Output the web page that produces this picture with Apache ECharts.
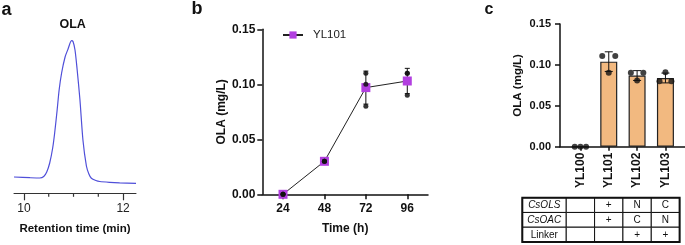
<!DOCTYPE html>
<html><head><meta charset="utf-8">
<script src="https://cdn.jsdelivr.net/npm/echarts@6/dist/echarts.min.js"></script>
<style>html,body{margin:0;padding:0;background:#fff}#c{width:685px;height:245px}</style>
</head><body><div id="c"></div>
<script>
// ---- Panel a: chromatogram (retention time in min, signal in arbitrary units)
const aTime = [9.80,10.12,10.32,10.40,10.46,10.52,10.58,10.62,10.67,10.71,10.76,10.83,10.89,10.96,10.99,11.03,11.07,11.13,11.19,11.26,11.31,11.36,11.45,11.53,11.73,11.93,12.26];
const aSignal = [16.3,15.6,15.3,16.8,21.3,30.3,45.3,60.3,83.3,103.3,120.3,136.3,144.3,152.6,151.8,143.3,125.3,93.3,53.3,27.3,19.3,15.0,12.8,11.8,11.0,10.5,10.0];
const aMajorTicks = [10, 12];
const aMinorTicks = [10.5, 11, 11.5];

// ---- Panel b: time course YL101
const bTime = ['24', '48', '72', '96'];
const bMean = [0, 0.030, 0.097, 0.103];
const bSD = [0, 0, 0.015, 0.0115];
const bReps = [[0, 0, 0], [0.03, 0.03, 0.03], [0.11, 0.10, 0.08], [0.11, 0.11, 0.09]];

// ---- Panel c: strains
const cStrains = ['YL100', 'YL101', 'YL102', 'YL103'];
const cMean = [0, 0.104, 0.087, 0.084];
const cSD = [0, 0.012, 0.006, 0.006];
const cReps = [[0, 0, 0], [0.111, 0.111, 0.0905], [0.0905, 0.0905, 0.081], [0.091, 0.080, 0.080]];
const cJitter = [[-0.2, 0, 0.2], [-0.23, 0.23, 0], [-0.22, 0.22, 0], [0, -0.21, 0.21]];

// ---- Table under panel c
const tableRows = ['CsOLS', 'CsOAC', 'Linker'];
const tableRowItalic = [true, true, false];
const tableCells = [['', '+', 'N', 'C'], ['', '+', 'C', 'N'], ['', '', '+', '+']];

const FONT = 'Liberation Sans, Arial, Helvetica, sans-serif';
const chart = echarts.init(document.getElementById('c'), null, {renderer: 'canvas'});

function errRender(capHalf) {
  return function (params, api) {
    const x = api.value(0), m = api.value(1), s = api.value(2);
    if (!s) return null;
    const t = api.coord([x, m + s]), b = api.coord([x, m - s]);
    const st = {stroke: '#111', lineWidth: 1};
    return {type: 'group', children: [
      {type: 'line', shape: {x1: t[0], y1: t[1], x2: b[0], y2: b[1]}, style: st},
      {type: 'line', shape: {x1: t[0] - capHalf, y1: t[1], x2: t[0] + capHalf, y2: t[1]}, style: st},
      {type: 'line', shape: {x1: b[0] - capHalf, y1: b[1], x2: b[0] + capHalf, y2: b[1]}, style: st}
    ]};
  };
}

// minor ticks of panel a's time axis, placed through the axis scale
function minorTickRender(params, api) {
  const p = api.coord([api.value(0), 0]);
  return {type: 'line', shape: {x1: p[0], y1: p[1], x2: p[0], y2: p[1] + 3.5},
    style: {stroke: '#333', lineWidth: 1.2}};
}

const headerSpan = 1.55;
const tableData = [];
tableRows.forEach((r, ri) => {
  tableData.push([-1, ri, r, tableRowItalic[ri] ? 1 : 0]);
  tableCells[ri].forEach((v, ci) => tableData.push([ci, ri, v, 0]));
});

function cellRender(params, api) {
  const col = api.value(0), row = api.value(1);
  const item = tableData[params.dataIndex];
  const c = api.coord([Math.max(col, 0), row]);
  const h = api.size([0, 1])[1];
  let x0, x1;
  if (col < 0) { x1 = api.coord([-0.5, row])[0]; x0 = api.coord([-0.5 - headerSpan, row])[0]; }
  else { x0 = api.coord([col - 0.5, row])[0]; x1 = api.coord([col + 0.5, row])[0]; }
  return {type: 'group', children: [
    {type: 'rect', shape: {x: x0, y: c[1] - h / 2, width: x1 - x0, height: h}, style: {fill: '#fff', stroke: '#111', lineWidth: 1}},
    {type: 'text', style: {x: (x0 + x1) / 2, y: c[1] + 0.5, text: item[2], align: 'center', verticalAlign: 'middle',
      font: (item[3] ? 'italic ' : '') + '10px ' + FONT, fill: '#111'}}
  ]};
}
function borderRender(params, api) {
  const h = api.size([0, 1])[1];
  const top = api.coord([0, 0])[1] - h / 2;
  const bottom = api.coord([0, tableRows.length - 1])[1] + h / 2;
  const x0 = api.coord([-0.5 - headerSpan, 0])[0];
  const x1 = api.coord([cStrains.length - 0.5, 0])[0];
  return {type: 'rect', shape: {x: x0, y: top, width: x1 - x0, height: bottom - top}, style: {fill: 'none', stroke: '#111', lineWidth: 2}, z2: 10};
}

const boldLabel = (size) => ({fontFamily: FONT, fontWeight: 'bold', fontSize: size, color: '#111'});
const axLine = {show: true, onZero: false, lineStyle: {color: '#111', width: 1.5}};

const option = {
  animation: false,
  backgroundColor: '#fff',
  textStyle: {fontFamily: FONT},
  grid: [
    {left: 14, width: 122, top: 30, bottom: 51.7, outerBoundsMode: 'none'},
    {left: 262.3, right: 257, top: 29.3, bottom: 50.7, outerBoundsMode: 'none'},
    {left: 560, right: 0, top: 24, bottom: 98.3, outerBoundsMode: 'none'},
    {left: 560, right: 0, top: 197.7, bottom: 3, outerBoundsMode: 'none'}
  ],
  xAxis: [
    {gridIndex: 0, type: 'value', position: 'bottom', min: 9.8, max: 12.26,
      axisLine: {show: true, onZero: false, lineStyle: {color: '#333', width: 1}},
      axisTick: {show: true, length: 7, customValues: aMajorTicks, lineStyle: {color: '#333', width: 1.2}},
      axisLabel: {show: true, customValues: aMajorTicks, margin: 9, fontFamily: FONT, fontSize: 12, color: '#222'},
      splitLine: {show: false},
      name: 'Retention time (min)', nameLocation: 'middle', nameGap: 30, nameTextStyle: boldLabel(11.5)},
    {gridIndex: 1, type: 'category', data: bTime, boundaryGap: true,
      axisLine: axLine, axisTick: {show: true, alignWithLabel: true, length: 5, lineStyle: {color: '#111', width: 1.5}},
      axisLabel: Object.assign({margin: 8}, boldLabel(12)),
      name: 'Time (h)', nameLocation: 'middle', nameGap: 28, nameTextStyle: boldLabel(12)},
    {gridIndex: 2, type: 'value', min: -0.72, max: 3.69,
      axisLine: axLine,
      axisTick: {show: true, length: 4, customValues: [0, 1, 2, 3], lineStyle: {color: '#111', width: 1.5}},
      axisLabel: Object.assign({customValues: [0, 1, 2, 3], rotate: 90, margin: 6, formatter: v => cStrains[Math.round(v)]}, boldLabel(12)),
      splitLine: {show: false}},
    {gridIndex: 3, type: 'value', min: -0.72, max: 3.69, show: false}
  ],
  yAxis: [
    {gridIndex: 0, type: 'value', min: 0, max: 163.3, show: false},
    {gridIndex: 1, type: 'value', min: 0, max: 0.15, interval: 0.05,
      axisLine: axLine, axisTick: {show: true, length: 5, lineStyle: {color: '#111', width: 1.5}},
      axisLabel: Object.assign({margin: 7, formatter: v => v.toFixed(2)}, boldLabel(12)),
      splitLine: {show: false},
      name: 'OLA (mg/L)', nameLocation: 'middle', nameRotate: 90, nameGap: 35, nameTextStyle: boldLabel(12)},
    {gridIndex: 2, type: 'value', min: 0, max: 0.15, interval: 0.05,
      axisLine: axLine, axisTick: {show: true, length: 5, lineStyle: {color: '#111', width: 1.5}},
      axisLabel: Object.assign({margin: 9, formatter: v => v.toFixed(2)}, boldLabel(11)),
      splitLine: {show: false},
      name: 'OLA (mg/L)', nameLocation: 'middle', nameRotate: 90, nameGap: 36, nameTextStyle: boldLabel(11.5)},
    {gridIndex: 3, type: 'category', data: tableRows, inverse: true, show: false}
  ],
  legend: {data: ['YL101'], left: 282, top: 29, itemWidth: 20, itemHeight: 9, padding: 0,
    textStyle: {fontFamily: FONT, fontSize: 11.5, color: '#222', padding: [0, 0, 0, 5]}},
  series: [
    {type: 'line', xAxisIndex: 0, yAxisIndex: 0, data: aTime.map((t, i) => [t, aSignal[i]]),
      smooth: 0.25, showSymbol: false, lineStyle: {color: '#4F4FD9', width: 1.2}, silent: true},
    {type: 'custom', xAxisIndex: 0, yAxisIndex: 0, renderItem: minorTickRender, clip: false, silent: true,
      data: aMinorTicks.map(v => [v, 0])},
    {type: 'custom', xAxisIndex: 1, yAxisIndex: 1, renderItem: errRender(2.5), z: 2,
      data: bTime.map((t, i) => [i, bMean[i], bSD[i]])},
    {name: 'YL101', type: 'line', xAxisIndex: 1, yAxisIndex: 1, data: bMean, z: 3,
      symbol: 'rect', symbolSize: 9, showAllSymbol: true,
      itemStyle: {color: '#B23FE0'}, lineStyle: {color: '#222', width: 1}},
    {type: 'scatter', xAxisIndex: 1, yAxisIndex: 1, z: 4, symbolSize: 5, itemStyle: {color: '#111', opacity: 0.85},
      data: bReps.flatMap((r, i) => r.map(v => [i, v]))},
    {type: 'bar', xAxisIndex: 2, yAxisIndex: 2, barWidth: 17, z: 2,
      data: cMean.map((m, i) => [i, m]),
      itemStyle: {color: '#F2B980', borderColor: '#222', borderWidth: 1.2}},
    {type: 'custom', xAxisIndex: 2, yAxisIndex: 2, renderItem: errRender(4), z: 3,
      data: cMean.map((m, i) => [i, m, cSD[i]])},
    {type: 'scatter', xAxisIndex: 2, yAxisIndex: 2, z: 4, symbolSize: 6, itemStyle: {color: '#111'},
      data: cReps.flatMap((r, i) => r.map((v, k) => [i + cJitter[i][k], v]))},
    {type: 'custom', xAxisIndex: 3, yAxisIndex: 3, renderItem: cellRender, data: tableData, z: 2},
    {type: 'custom', xAxisIndex: 3, yAxisIndex: 3, renderItem: borderRender, data: [[0, 0]], z: 3}
  ],
  graphic: [
    {type: 'text', left: 1.5, top: 1, style: {text: 'a', font: 'bold 18px ' + FONT, fill: '#111'}},
    {type: 'text', left: 191.5, top: 0, style: {text: 'b', font: 'bold 18px ' + FONT, fill: '#111'}},
    {type: 'text', left: 484.5, top: 2, style: {text: 'c', font: 'bold 16px ' + FONT, fill: '#111'}},
    {type: 'text', x: 72.7, y: 24.3, style: {text: 'OLA', font: 'bold 12.5px ' + FONT, fill: '#111', align: 'center', verticalAlign: 'middle'}}
  ]
};
chart.setOption(option);
</script></body></html>
